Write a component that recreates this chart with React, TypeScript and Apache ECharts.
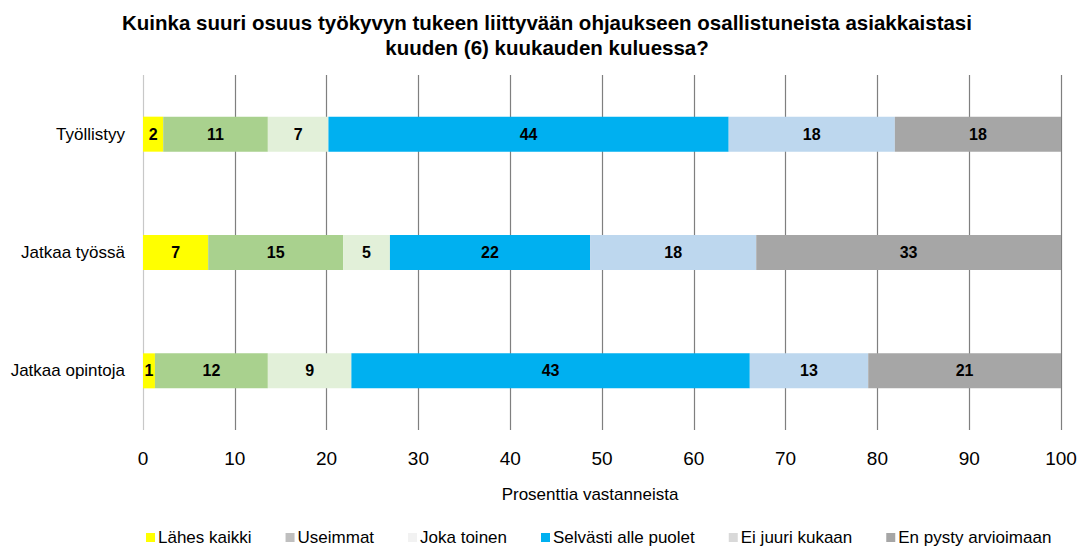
import React, { useEffect, useRef } from "react";
import * as echarts from "echarts";

const categories = ["Työllistyy", "Jatkaa työssä", "Jatkaa opintoja"];
const seriesNames = [
  "Lähes kaikki",
  "Useimmat",
  "Joka toinen",
  "Selvästi alle puolet",
  "Ei juuri kukaan",
  "En pysty arvioimaan",
];
const lahesKaikki = [2.2, 7.1, 1.3];
const useimmat = [11.4, 14.7, 12.3];
const jokaToinen = [6.6, 5.1, 9.1];
const selvastiAlle = [43.6, 21.8, 43.4];
const eiJuuri = [18.1, 18.1, 12.9];
const enPysty = [18.1, 33.2, 21.0];
const seriesValues = [lahesKaikki, useimmat, jokaToinen, selvastiAlle, eiJuuri, enPysty];
const barColors = ["#FFFF00", "#A9D18E", "#E2F0D9", "#00B0F0", "#BDD7EE", "#A6A6A6"];
const legendColors = ["#FFFF00", "#BFBFBF", "#F2F2F2", "#00B0F0", "#D9D9D9", "#A6A6A6"];
const xTicks = [0, 10, 20, 30, 40, 50, 60, 70, 80, 90, 100];

const FONT = "'Liberation Sans', Arial, sans-serif";

export default function App() {
  const ref = useRef<HTMLDivElement>(null);
  useEffect(() => {
    if (!ref.current) return;
    const chart = echarts.init(ref.current, undefined, { renderer: "svg" });
    chart.setOption({
      animation: false,
      backgroundColor: "#ffffff",
      title: {
        text:
          "Kuinka suuri osuus työkyvyn tukeen liittyvään ohjaukseen osallistuneista asiakkaistasi\nkuuden (6) kuukauden kuluessa?",
        left: 542,
        textAlign: "center",
        top: 5,
        textStyle: {
          fontFamily: FONT,
          fontSize: 20.5,
          fontWeight: "bold",
          color: "#000",
          lineHeight: 25,
        },
      },
      legend: {
        bottom: -2,
        left: 141,
        itemWidth: 9,
        itemHeight: 9,
        itemGap: 34,
        icon: "rect",
        textStyle: { fontFamily: FONT, fontSize: 17, color: "#000", padding: [0, 0, 0, -2] },
        data: seriesNames.map((n, i) => ({ name: n, itemStyle: { color: legendColors[i] } })),
      },
      grid: { left: 143, right: 22, top: 75, bottom: 119, containLabel: false },
      xAxis: {
        type: "value",
        min: xTicks[0],
        max: xTicks[xTicks.length - 1],
        interval: 10,
        name: "Prosenttia vastanneista",
        nameLocation: "middle",
        nameGap: 56,
        nameTextStyle: { fontFamily: FONT, fontSize: 17, color: "#000", padding: [0, 24, 0, 0] },
        axisLine: { show: false },
        axisTick: { show: false },
        axisLabel: { fontFamily: FONT, fontSize: 19, color: "#000", margin: 19 },
        splitLine: {
          show: true,
          lineStyle: {
            color: ["#c8c8c8", "#7f7f7f", "#7f7f7f", "#7f7f7f", "#7f7f7f", "#7f7f7f", "#7f7f7f", "#7f7f7f", "#7f7f7f", "#7f7f7f", "#7f7f7f"],
            width: 1.2,
          },
        },
      },
      yAxis: {
        type: "category",
        data: categories,
        inverse: true,
        axisLine: { show: false },
        axisTick: { show: false },
        axisLabel: { fontFamily: FONT, fontSize: 17, color: "#000", margin: 18 },
      },
      series: seriesNames.map((name, i) => ({
        name,
        type: "bar",
        stack: "total",
        barWidth: 35,
        itemStyle: { color: barColors[i] },
        label: {
          show: true,
          position: "inside",
          fontFamily: FONT,
          fontSize: 16,
          fontWeight: "bold",
          color: "#000",
          formatter: (p: any) => String(Math.round(p.value)),
        },
        data: seriesValues[i],
      })),
    });
    return () => chart.dispose();
  }, []);
  return (
    <div
      ref={ref}
      style={{ position: "fixed", left: 0, top: 0, width: 1083, height: 549 }}
    />
  );
}
